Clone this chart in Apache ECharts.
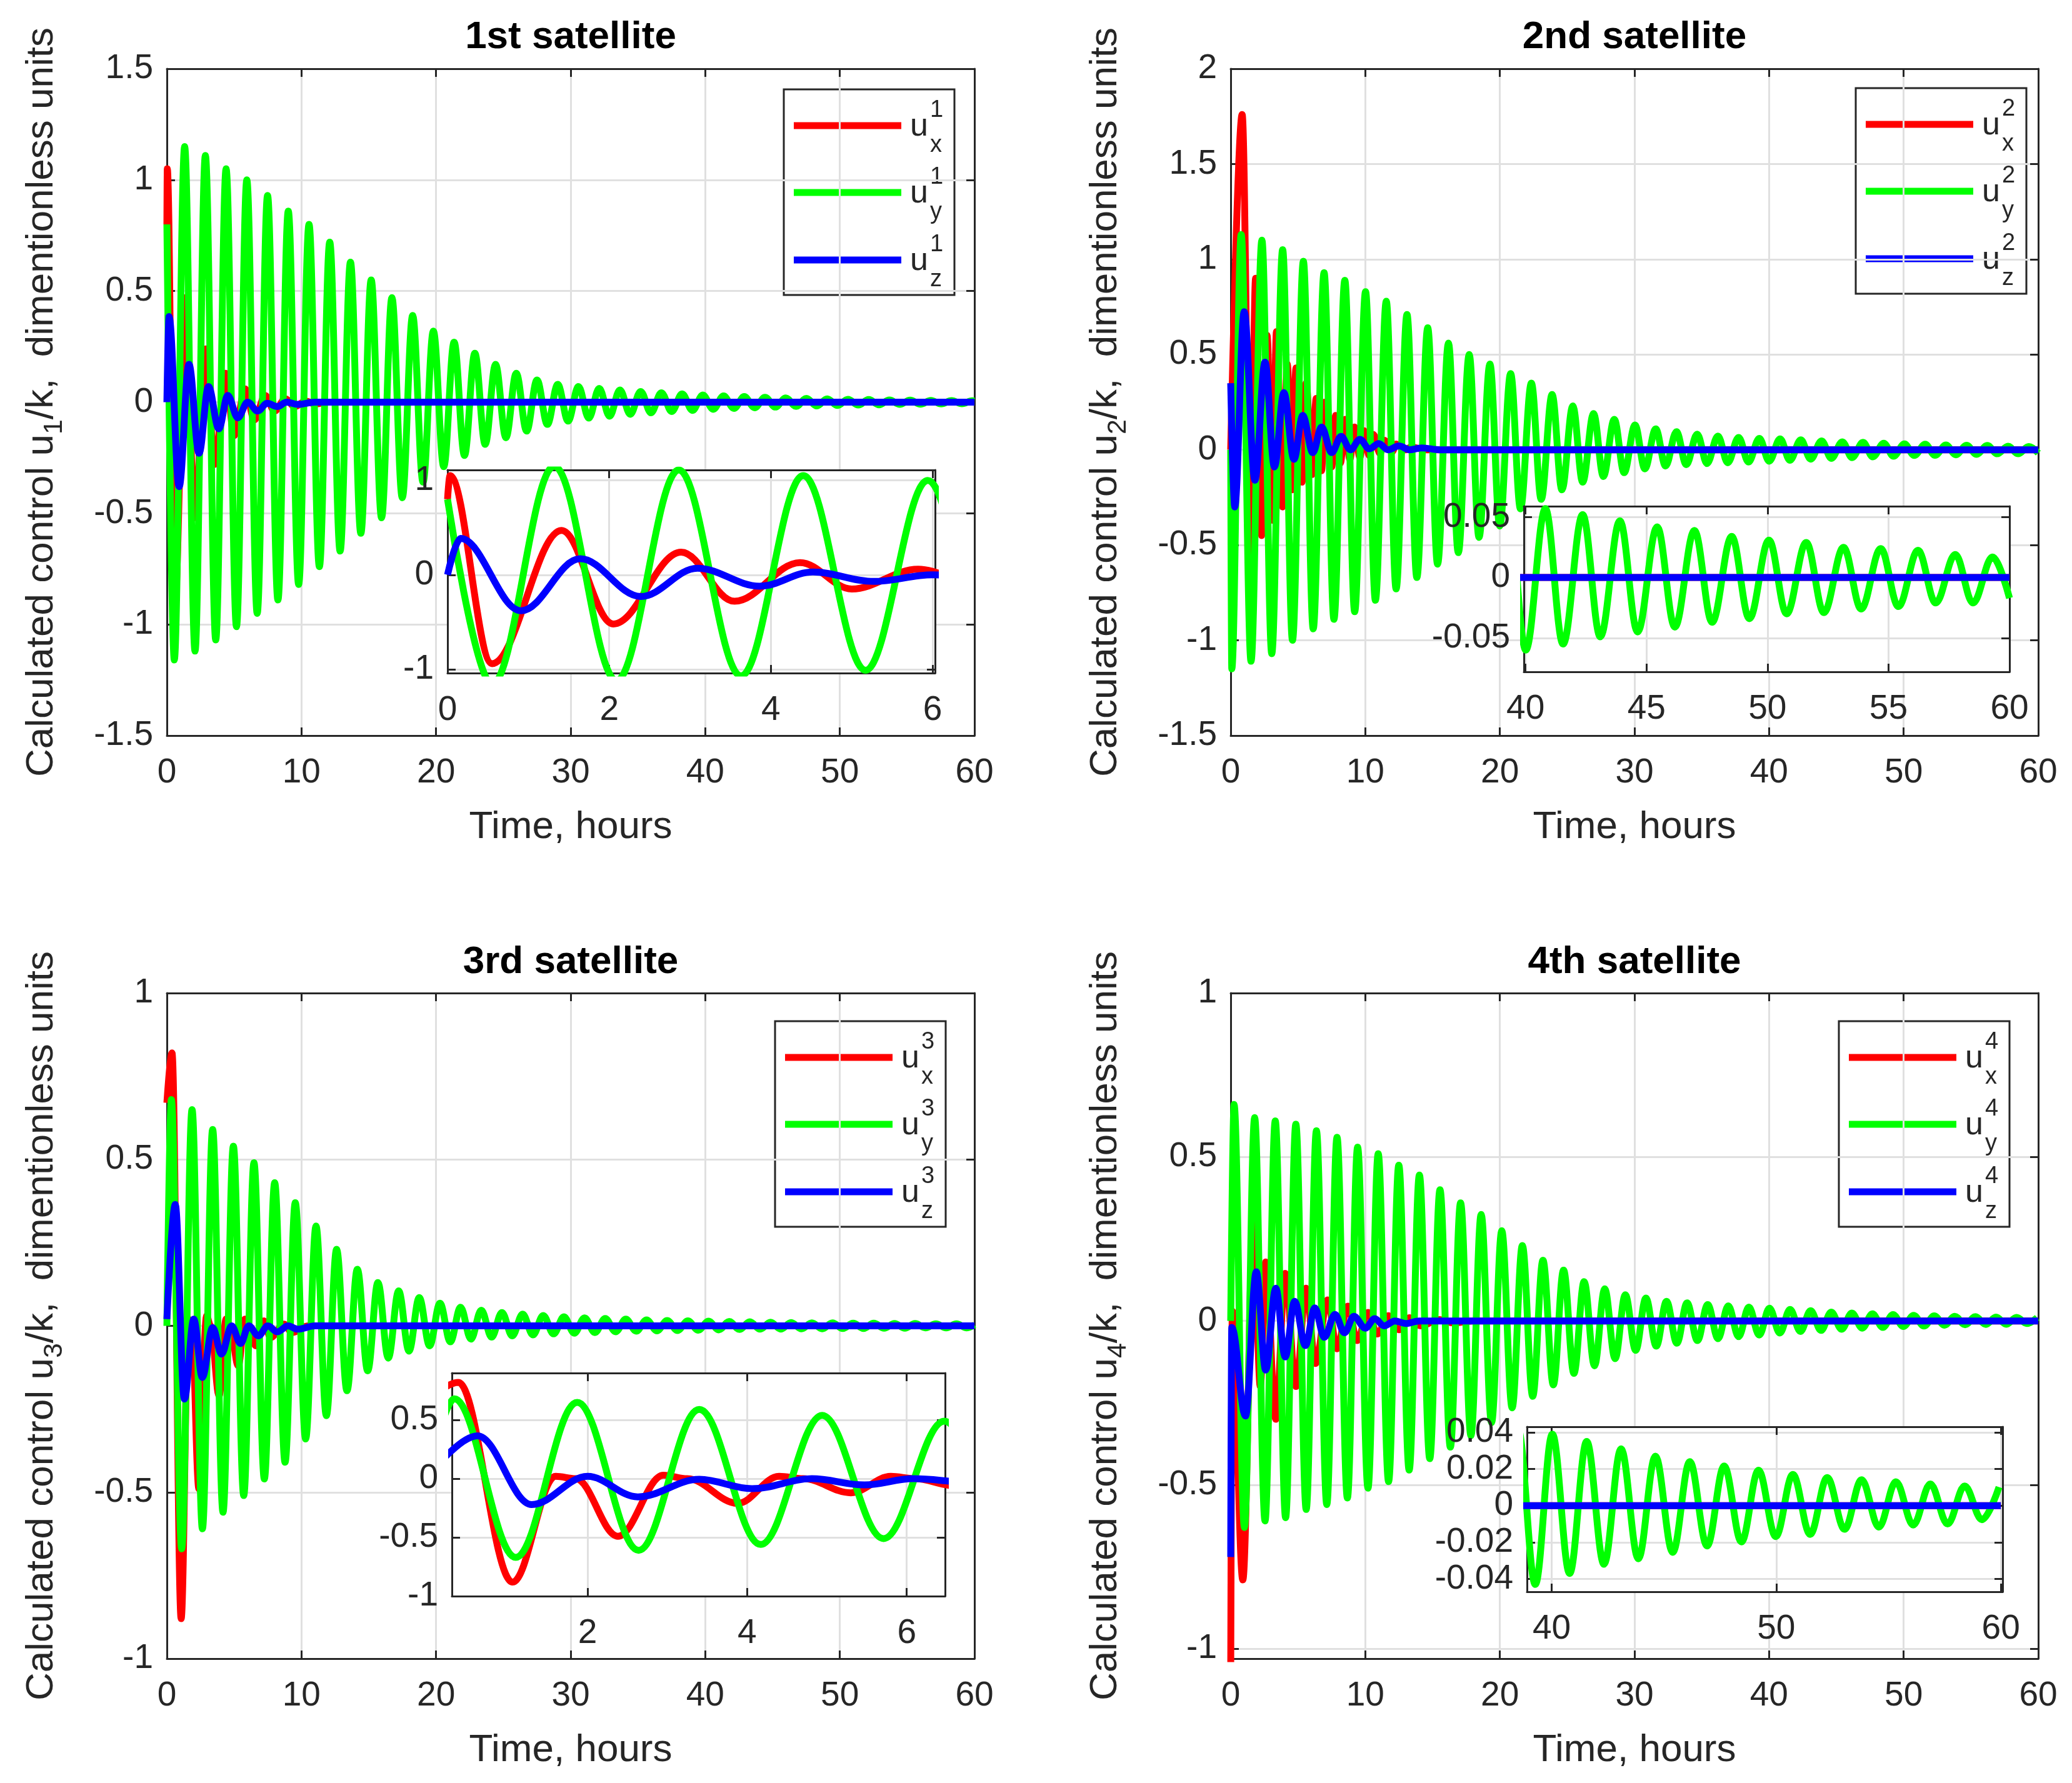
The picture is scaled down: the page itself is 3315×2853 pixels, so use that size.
<!DOCTYPE html>
<html>
<head>
<meta charset="utf-8">
<script src="https://cdn.jsdelivr.net/npm/echarts@6/dist/echarts.min.js"></script>
<style>
html, body { margin: 0; padding: 0; background: #fff; }
#chart { width: 3315px; height: 2853px; }
</style>
</head>
<body>
<div id="chart"></div>
<script>
// values: [time in hours, u/k]; extrema of each oscillation
var sat1Ux = [[0,0.8],[0.03,1.05],[0.55,-0.94],[1.41,0.47],[2.05,-0.52],[2.89,0.24],[3.55,-0.28],[4.36,0.13],[5.0,-0.15],[5.82,0.06],[6.5,-0.08],[7.3,0.03],[8.0,-0.04],[8.8,0.015],[9.5,-0.02],[10.3,0.005],[11.0,-0.008],[12,0],[60,0]];
var sat1Uy = [[0,0.80],[0.55,-1.16],[1.32,1.15],[2.09,-1.12],[2.86,1.11],[3.63,-1.07],[4.40,1.05],[5.17,-1.01],[5.94,1.00],[6.71,-0.95],[7.48,0.93],[8.25,-0.89],[9.02,0.86],[9.79,-0.82],[10.56,0.80],[11.33,-0.74],[12.10,0.72],[12.87,-0.67],[13.64,0.63],[14.41,-0.59],[15.18,0.55],[15.95,-0.52],[16.72,0.47],[17.49,-0.43],[18.26,0.39],[19.03,-0.36],[19.80,0.32],[20.57,-0.29],[21.34,0.27],[22.11,-0.24],[22.88,0.22],[23.65,-0.19],[24.42,0.17],[25.19,-0.16],[25.96,0.13],[26.73,-0.13],[27.50,0.10],[28.27,-0.10],[29.04,0.08],[29.81,-0.085],[30.58,0.07],[31.35,-0.072],[32.12,0.062],[32.89,-0.063],[33.66,0.055],[34.43,-0.055],[35.20,0.048],[35.97,-0.048],[36.74,0.042],[37.51,-0.042],[38.28,0.037],[39.05,-0.037],[39.82,0.032],[40.59,-0.032],[41.36,0.028],[42.13,-0.028],[42.90,0.025],[43.67,-0.025],[44.44,0.022],[45.21,-0.022],[45.98,0.019],[46.75,-0.019],[47.52,0.017],[48.29,-0.017],[49.06,0.015],[49.83,-0.015],[50.60,0.013],[51.37,-0.013],[52.14,0.012],[52.91,-0.012],[53.68,0.010],[54.45,-0.010],[55.22,0.009],[55.99,-0.009],[56.76,0.008],[57.53,-0.008],[58.30,0.007],[59.07,-0.007],[59.84,0.006],[60,0.005]];
var sat1Uz = [[0,0],[0.16,0.385],[0.91,-0.38],[1.64,0.17],[2.39,-0.23],[3.09,0.07],[3.86,-0.12],[4.52,0.03],[5.27,-0.07],[6.0,0.0],[6.75,-0.04],[7.45,-0.005],[8.2,-0.02],[8.9,0],[9.7,-0.01],[11,0],[60,0]];

var sat2Ux = [[0,0],[0.85,1.76],[1.47,-0.54],[1.85,0.9],[2.3,-0.45],[2.7,0.6],[3.1,-0.37],[3.4,0.62],[3.85,-0.3],[4.2,0.45],[4.57,-0.21],[4.85,0.43],[5.3,-0.17],[5.6,0.35],[6.05,-0.13],[6.35,0.27],[6.75,-0.11],[7.0,0.25],[7.5,-0.09],[7.8,0.18],[8.15,-0.07],[8.5,0.16],[8.85,-0.05],[9.2,0.12],[9.6,-0.04],[9.9,0.1],[10.3,-0.03],[10.6,0.08],[11.1,-0.02],[11.4,0.05],[12.0,-0.01],[12.3,0.03],[13,0],[13.4,0.015],[14.5,0],[60,0]];
var sat2Uy = [[0,0],[0.08,-1.15],[0.78,1.13],[1.51,-1.11],[2.32,1.10],[3.05,-1.07],[3.86,1.05],[4.59,-1.00],[5.40,0.99],[6.13,-0.94],[6.94,0.93],[7.67,-0.89],[8.48,0.89],[9.21,-0.85],[10.02,0.83],[10.75,-0.79],[11.56,0.78],[12.29,-0.73],[13.10,0.71],[13.83,-0.67],[14.64,0.64],[15.37,-0.60],[16.18,0.56],[16.91,-0.54],[17.72,0.50],[18.45,-0.46],[19.26,0.45],[19.99,-0.40],[20.80,0.40],[21.53,-0.31],[22.34,0.35],[23.07,-0.26],[23.88,0.29],[24.61,-0.21],[25.42,0.23],[26.15,-0.17],[26.96,0.19],[27.69,-0.14],[28.50,0.16],[29.23,-0.12],[30.04,0.13],[30.77,-0.10],[31.58,0.11],[32.31,-0.085],[33.12,0.095],[33.85,-0.078],[34.66,0.082],[35.39,-0.072],[36.20,0.072],[36.93,-0.068],[37.74,0.065],[38.47,-0.064],[39.28,0.06],[40.01,-0.06],[40.82,0.057],[41.55,-0.055],[42.36,0.052],[43.09,-0.049],[43.90,0.047],[44.63,-0.045],[45.44,0.042],[46.17,-0.041],[46.98,0.039],[47.71,-0.037],[48.52,0.034],[49.25,-0.034],[50.06,0.031],[50.79,-0.030],[51.60,0.029],[52.33,-0.029],[53.14,0.025],[53.87,-0.026],[54.68,0.024],[55.41,-0.024],[56.22,0.0225],[56.95,-0.021],[57.76,0.019],[58.49,-0.021],[59.30,0.017],[60,-0.017]];
var sat2Uz = [[0,0.35],[0.3,-0.30],[1.0,0.725],[1.8,-0.16],[2.55,0.46],[3.25,-0.09],[3.95,0.30],[4.7,-0.05],[5.35,0.18],[6.1,-0.015],[6.75,0.12],[7.5,-0.015],[8.2,0.07],[8.9,0.0],[9.6,0.055],[10.3,0.005],[11.0,0.033],[11.7,0.0],[12.5,0.02],[13.3,0],[14.2,0.01],[15.5,0],[60,0]];

var sat3Ux = [[0,0.67],[0.38,0.82],[1.06,-0.88],[1.6,0.02],[1.85,0.0],[2.38,-0.49],[2.95,0.03],[3.25,0.0],[3.88,-0.21],[4.4,0.02],[4.7,0.0],[5.3,-0.12],[5.8,0.02],[6.1,0.0],[6.6,-0.06],[7.2,0.015],[7.7,-0.035],[8.7,0.005],[9.3,-0.02],[10.5,0],[60,0]];
var sat3Uy = [[0,0],[0.33,0.68],[1.10,-0.67],[1.87,0.65],[2.64,-0.61],[3.40,0.59],[4.17,-0.56],[4.94,0.54],[5.71,-0.51],[6.47,0.49],[7.24,-0.46],[8.01,0.43],[8.78,-0.41],[9.54,0.37],[10.31,-0.34],[11.08,0.30],[11.85,-0.27],[12.61,0.23],[13.38,-0.195],[14.15,0.17],[14.92,-0.135],[15.68,0.13],[16.45,-0.097],[17.22,0.105],[17.99,-0.076],[18.75,0.085],[19.52,-0.06],[20.29,0.068],[21.06,-0.048],[21.82,0.056],[22.59,-0.04],[23.36,0.047],[24.13,-0.034],[24.89,0.04],[25.66,-0.03],[26.43,0.035],[27.20,-0.027],[27.96,0.031],[28.73,-0.024],[29.50,0.027],[30.27,-0.022],[31.03,0.024],[31.80,-0.02],[32.57,0.022],[33.34,-0.018],[34.10,0.02],[34.87,-0.016],[35.64,0.018],[36.41,-0.015],[37.17,0.016],[37.94,-0.014],[38.71,0.015],[39.48,-0.013],[40.24,0.014],[41.01,-0.012],[41.78,0.013],[42.55,-0.011],[43.31,0.012],[44.08,-0.010],[44.85,0.011],[45.62,-0.010],[46.38,0.010],[47.15,-0.009],[47.92,0.009],[48.69,-0.009],[49.45,0.009],[50.22,-0.008],[50.99,0.008],[51.76,-0.008],[52.52,0.008],[53.29,-0.007],[54.06,0.007],[54.83,-0.007],[55.59,0.007],[56.36,-0.006],[57.13,0.006],[57.90,-0.006],[58.66,0.006],[59.43,-0.006],[60,0.003]];
var sat3Uz = [[0,0.02],[0.62,0.365],[1.3,-0.22],[2.0,0.02],[2.63,-0.155],[3.4,-0.005],[4.06,-0.085],[4.81,0.0],[5.47,-0.053],[6.08,0.0],[6.8,-0.03],[7.5,0],[8.2,-0.018],[9,0],[9.7,-0.01],[11,0],[60,0]];

var sat4Ux = [[0,-1.1],[0.12,0.03],[0.9,-0.79],[1.7,0.32],[2.2,-0.2],[2.6,0.18],[3.35,-0.3],[4.05,0.145],[4.85,-0.2],[5.6,0.1],[6.3,-0.13],[7.2,0.064],[7.9,-0.085],[8.7,0.045],[9.4,-0.06],[10.2,0.026],[10.9,-0.04],[11.7,0.016],[12.5,-0.027],[13.3,0.01],[14.1,-0.015],[15.5,0.004],[16.5,-0.006],[18,0],[60,0]];
var sat4Uy = [[0,0],[0.25,0.66],[1.02,-0.63],[1.78,0.62],[2.55,-0.61],[3.31,0.61],[4.08,-0.60],[4.84,0.60],[5.61,-0.575],[6.37,0.58],[7.14,-0.56],[7.90,0.56],[8.67,-0.54],[9.43,0.53],[10.20,-0.51],[10.96,0.51],[11.73,-0.49],[12.49,0.475],[13.26,-0.455],[14.02,0.445],[14.79,-0.42],[15.55,0.40],[16.32,-0.385],[17.08,0.36],[17.85,-0.35],[18.61,0.325],[19.38,-0.31],[20.14,0.275],[20.91,-0.265],[21.67,0.23],[22.44,-0.23],[23.20,0.185],[23.97,-0.195],[24.73,0.155],[25.50,-0.16],[26.26,0.12],[27.03,-0.137],[27.79,0.098],[28.56,-0.115],[29.32,0.08],[30.09,-0.09],[30.85,0.07],[31.62,-0.077],[32.38,0.06],[33.15,-0.068],[33.91,0.055],[34.68,-0.06],[35.44,0.05],[36.21,-0.054],[36.97,0.046],[37.74,-0.048],[38.50,0.042],[39.27,-0.043],[40.03,0.039],[40.80,-0.037],[41.56,0.035],[42.33,-0.032],[43.09,0.031],[43.86,-0.029],[44.62,0.027],[45.39,-0.0255],[46.15,0.024],[46.92,-0.022],[47.68,0.0216],[48.45,-0.0198],[49.21,0.0193],[49.98,-0.0169],[50.74,0.017],[51.51,-0.0157],[52.27,0.0153],[53.04,-0.0129],[53.80,0.0141],[54.57,-0.0117],[55.33,0.013],[56.10,-0.0106],[56.86,0.0118],[57.63,-0.01],[58.39,0.0107],[59.16,-0.0077],[59.92,0.0101]];
var sat4Uz = [[0,-0.72],[0.08,-0.02],[1.1,-0.29],[1.9,0.15],[2.6,-0.15],[3.35,0.10],[4.05,-0.11],[4.75,0.06],[5.55,-0.075],[6.25,0.04],[6.95,-0.05],[7.75,0.02],[8.45,-0.036],[9.15,0.014],[10.0,-0.022],[10.7,0.007],[11.4,-0.015],[12.2,0.0],[13,-0.008],[14,0],[60,0]];

// tick values
var mainXTicks = [0, 10, 20, 30, 40, 50, 60];
var sat1YTicks = [-1.5, -1, -0.5, 0, 0.5, 1, 1.5];
var sat2YTicks = [-1.5, -1, -0.5, 0, 0.5, 1, 1.5, 2];
var sat34YTicks = [-1, -0.5, 0, 0.5, 1];
var inset1XTicks = [0, 2, 4, 6], inset1YTicks = [-1, 0, 1];
var inset2XTicks = [40, 45, 50, 55, 60], inset2YTicks = [-0.05, 0, 0.05];
var inset3XTicks = [2, 4, 6], inset3YTicks = [-1, -0.5, 0, 0.5];
var inset4XTicks = [40, 50, 60], inset4YTicks = [-0.04, -0.02, 0, 0.02, 0.04];

var titles = ['1st satellite', '2nd satellite', '3rd satellite', '4th satellite'];
var compNames = ['x', 'y', 'z'];
var colors = ['#ff0000', '#00ff00', '#0000ff'];

var FONT = '"Liberation Sans", Arial, Helvetica, sans-serif';
var INK = '#262626';
var GRIDC = '#e0e0e0';
var LW = 11;

// layout (pixels) for each panel
var panels = [
    { data: [sat1Ux, sat1Uy, sat1Uz], box: [267, 110, 1559, 1177], yr: [-1.5, 1.5], yt: sat1YTicks, titleY: 60, legend: [1254, 143],
      inset: { box: [716, 752, 1496, 1077], xr: [0, 6.03], yr: [-1.04, 1.11], xt: inset1XTicks, yt: inset1YTicks } },
    { data: [sat2Ux, sat2Uy, sat2Uz], box: [1969, 110, 3261, 1177], yr: [-1.5, 2], yt: sat2YTicks, titleY: 60, legend: [2969, 141],
      inset: { box: [2438, 810, 3215, 1075], xr: [39.93, 60], yr: [-0.078, 0.059], xt: inset2XTicks, yt: inset2YTicks } },
    { data: [sat3Ux, sat3Uy, sat3Uz], box: [267, 1589, 1559, 2654], yr: [-1, 1], yt: sat34YTicks, titleY: 1540, legend: [1240, 1634],
      inset: { box: [723, 2197, 1512, 2554], xr: [0.3, 6.48], yr: [-1, 0.9], xt: inset3XTicks, yt: inset3YTicks } },
    { data: [sat4Ux, sat4Uy, sat4Uz], box: [1969, 1589, 3261, 2654], yr: [-1.03, 1], yt: sat34YTicks, titleY: 1540, legend: [2942, 1634],
      inset: { box: [2443, 2283, 3204, 2547], xr: [38.9, 60.08], yr: [-0.047, 0.043], xt: inset4XTicks, yt: inset4YTicks } }
];

var grids = [], xAxes = [], yAxes = [], series = [], graphics = [];

function fmt(v) { return String(v); }

function makeAxis(gi, pos, range, ticks, primary, z, extra) {
    var horizontal = (pos === 'bottom' || pos === 'top');
    var ax = {
        type: 'value', gridIndex: gi, position: pos, min: range[0], max: range[1], z: z,
        axisLine: { show: true, onZero: false, lineStyle: { color: INK, width: 3 } },
        axisTick: { show: true, inside: true, length: 13, customValues: ticks, lineStyle: { color: INK, width: 3 } },
        axisLabel: { show: primary, customValues: ticks, margin: horizontal ? 32 : 22, fontSize: 55,
                     color: INK, fontFamily: FONT, formatter: fmt },
        splitLine: { show: primary, lineStyle: { color: GRIDC, width: 3 } },
        minorTick: { show: false }
    };
    if (extra) for (var k in extra) ax[k] = extra[k];
    return ax;
}

function addPlot(box, xr, yr, xt, yt, isInset, data, names) {
    var gi = grids.length;
    var z = isInset ? 10 : 0;
    grids.push({ left: box[0], top: box[1], width: box[2] - box[0], height: box[3] - box[1],
                 show: isInset, backgroundColor: '#ffffff', borderWidth: 0, z: z });
    var xi = xAxes.length, yi = yAxes.length;
    xAxes.push(makeAxis(gi, 'bottom', xr, xt, true, z + 1, names ? names.x : null));
    xAxes.push(makeAxis(gi, 'top', xr, xt, false, z + 1));
    yAxes.push(makeAxis(gi, 'left', yr, yt, true, z + 1, names ? names.y : null));
    yAxes.push(makeAxis(gi, 'right', yr, yt, false, z + 1));
    for (var i = 0; i < 3; i++) {
        series.push({
            type: 'line', xAxisIndex: xi, yAxisIndex: yi, data: data[i],
            symbol: 'none', showSymbol: false, smooth: 0.36, smoothMonotone: 'x',
            clip: true, silent: true, z: isInset ? 12 : 2,
            lineStyle: { color: colors[i], width: LW }, itemStyle: { color: colors[i] }
        });
    }
}

function legendGroup(pos, n) {
    var rowsY = [58, 165, 273];
    var kids = [{ type: 'rect', shape: { x: 0, y: 0, width: 273, height: 329 },
                  style: { fill: '#ffffff', stroke: INK, lineWidth: 3 } }];
    for (var i = 0; i < 3; i++) {
        var ry = rowsY[i];
        kids.push({ type: 'line', shape: { x1: 16, y1: ry, x2: 188, y2: ry },
                    style: { stroke: colors[i], lineWidth: LW } });
        kids.push({ type: 'text', x: 202, y: ry + 2,
                    style: { text: 'u', fontSize: 52, fontFamily: FONT, fill: INK, align: 'left', verticalAlign: 'middle' } });
        kids.push({ type: 'text', x: 234, y: ry - 24,
                    style: { text: String(n), fontSize: 38, fontFamily: FONT, fill: INK, align: 'left', verticalAlign: 'middle' } });
        kids.push({ type: 'text', x: 234, y: ry + 32,
                    style: { text: compNames[i], fontSize: 38, fontFamily: FONT, fill: INK, align: 'left', verticalAlign: 'middle' } });
    }
    return { type: 'group', x: pos[0], y: pos[1], z: 30, children: kids };
}

panels.forEach(function (p, idx) {
    var n = idx + 1;
    var names = {
        x: { name: 'Time, hours', nameLocation: 'middle', nameGap: 116,
             nameTextStyle: { fontSize: 62, fontFamily: FONT, color: INK } },
        y: { name: '{n|Calculated control u}{s|' + n + '}{n|/k,  dimentionless units}',
             nameLocation: 'middle', nameRotate: 90, nameGap: 158,
             nameTextStyle: { fontSize: 62, fontFamily: FONT, color: INK,
                 rich: {
                     n: { fontSize: 62, fontFamily: FONT, color: INK, lineHeight: 84, verticalAlign: 'middle' },
                     s: { fontSize: 43, fontFamily: FONT, color: INK, lineHeight: 42, verticalAlign: 'bottom' }
                 } } }
    };
    addPlot(p.box, [0, 60], p.yr, mainXTicks, p.yt, false, p.data, names);
    var ins = p.inset;
    addPlot(ins.box, ins.xr, ins.yr, ins.xt, ins.yt, true, p.data, null);
    graphics.push({ type: 'text', x: (p.box[0] + p.box[2]) / 2, y: p.titleY, z: 30,
                    style: { text: titles[idx], fontSize: 62, fontWeight: 'bold', fontFamily: FONT,
                             fill: '#000000', align: 'center', verticalAlign: 'middle' } });
    graphics.push(legendGroup(p.legend, n));
});

var chart = echarts.init(document.getElementById('chart'), null, { renderer: 'canvas' });
chart.setOption({
    animation: false,
    backgroundColor: '#ffffff',
    grid: grids,
    xAxis: xAxes,
    yAxis: yAxes,
    series: series,
    graphic: graphics
});
</script>
</body>
</html>
